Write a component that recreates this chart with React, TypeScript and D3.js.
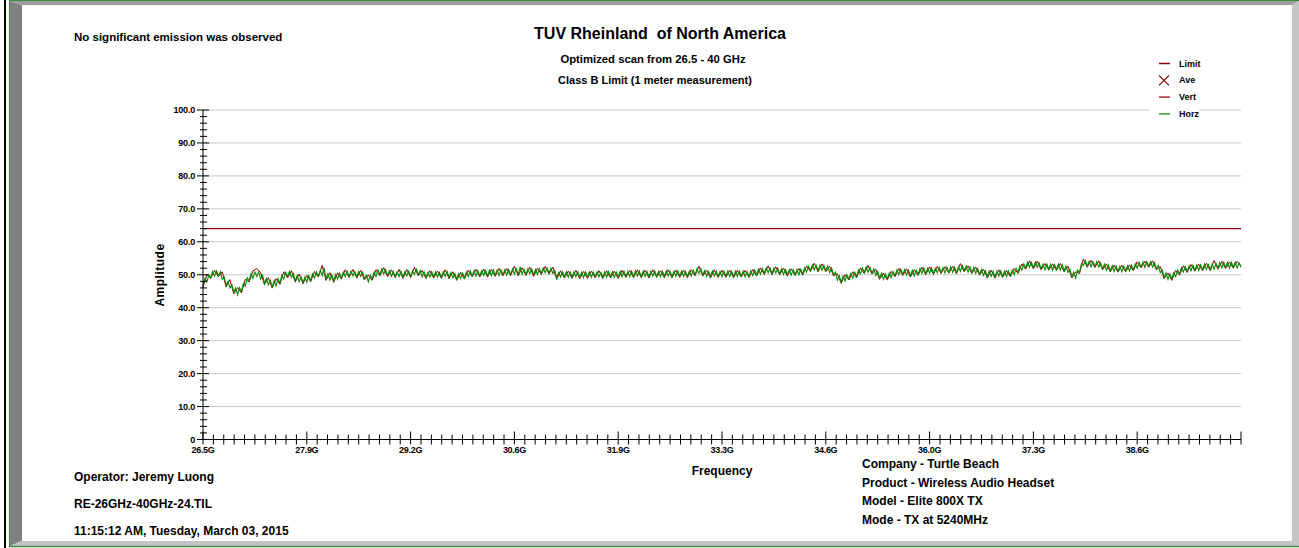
import * as d3 from "d3";

// scan settings (Optimized scan 26.5 - 40 GHz)
const FREQ_START = 26.5;
const FREQ_END = 40;
const HORZ_STEP = 0.025; // horizontal trace, one reading every 25 MHz
const VERT_STEP = 0.05; // vertical trace, one reading every 50 MHz

// Horizontal polarisation peak readings, dBuV/m (20 readings per 0.5 GHz row)
const HORZ = [
  46.7, 48.9, 47.8, 49.9, 49.1, 51.0, 49.6, 51.2, 49.8, 50.9, 48.6, 49.4, 46.8, 48.0, 46.0, 47.0, 44.7, 46.0, 43.9, 46.1,
  44.9, 47.4, 46.5, 49.1, 48.1, 50.3, 48.9, 50.9, 49.5, 50.8, 48.7, 49.8, 47.4, 48.9, 46.9, 48.3, 46.3, 48.2, 46.6, 48.8,
  47.5, 49.8, 48.7, 50.7, 49.4, 51.0, 49.2, 50.4, 48.1, 49.8, 47.9, 49.4, 47.6, 49.3, 47.8, 49.7, 48.2, 50.2, 49.0, 50.9,
  49.5, 51.3, 49.8, 52.2, 48.8, 50.3, 48.4, 50.0, 48.2, 50.1, 48.6, 50.4, 49.0, 50.8, 49.4, 51.1, 49.5, 51.1, 49.6, 51.0,
  49.4, 51.0, 49.5, 50.8, 48.8, 49.9, 47.9, 49.9, 48.8, 50.8, 49.5, 51.4, 50.0, 51.8, 50.2, 51.5, 49.8, 51.2, 49.5, 51.0,
  49.4, 50.9, 49.5, 51.1, 49.3, 50.9, 49.6, 51.1, 49.4, 51.2, 50.1, 51.7, 50.0, 51.3, 49.4, 50.9, 49.2, 50.7, 49.3, 50.9,
  49.4, 50.9, 49.3, 50.7, 49.3, 50.9, 49.5, 51.1, 49.2, 50.7, 49.0, 50.4, 48.7, 50.3, 48.9, 50.5, 49.0, 50.8, 49.5, 51.2,
  49.7, 51.3, 49.6, 51.2, 49.7, 51.3, 49.8, 51.3, 49.6, 51.3, 49.7, 51.5, 49.9, 51.4, 49.8, 51.5, 50.0, 51.5, 49.9, 51.6,
  50.1, 51.7, 50.2, 51.8, 50.0, 52.4, 50.2, 51.7, 50.1, 51.8, 50.3, 51.7, 50.0, 51.6, 50.1, 51.8, 50.4, 52.1, 50.6, 52.1,
  50.5, 52.0, 50.4, 51.3, 49.0, 50.7, 49.3, 50.9, 49.4, 50.9, 49.2, 50.8, 49.3, 50.9, 49.4, 50.9, 49.2, 50.8, 49.1, 50.8,
  49.3, 50.8, 49.2, 50.9, 49.4, 50.9, 49.3, 50.7, 49.2, 50.9, 49.3, 51.0, 49.4, 50.9, 49.2, 50.8, 49.3, 51.0, 49.4, 51.1,
  49.5, 51.0, 49.4, 51.1, 49.5, 51.2, 49.6, 51.1, 49.4, 51.1, 49.5, 51.0, 49.4, 51.1, 49.6, 51.2, 49.5, 51.0, 49.4, 51.1,
  49.5, 51.1, 49.6, 51.1, 49.4, 51.1, 49.5, 51.2, 49.6, 51.1, 49.5, 51.0, 49.4, 51.1, 49.6, 51.4, 50.0, 51.8, 50.4, 51.8,
  49.9, 51.3, 49.5, 51.0, 49.4, 51.1, 49.6, 51.1, 49.5, 51.0, 49.4, 51.1, 49.6, 51.1, 49.5, 51.0, 49.4, 51.1, 49.5, 51.1,
  49.6, 51.1, 49.4, 51.0, 49.5, 51.2, 49.7, 51.4, 50.0, 51.7, 50.2, 51.9, 50.4, 52.1, 50.6, 52.1, 50.4, 52.0, 50.5, 52.0,
  50.3, 51.8, 50.1, 51.6, 50.0, 51.5, 49.9, 51.6, 50.1, 51.6, 50.0, 51.7, 50.2, 52.1, 50.8, 52.6, 51.3, 53.0, 51.5, 52.9,
  51.2, 52.9, 51.4, 52.9, 51.3, 52.6, 50.7, 52.0, 50.0, 50.8, 48.4, 49.7, 47.8, 49.5, 48.1, 50.0, 48.7, 50.4, 49.0, 50.8,
  49.4, 51.4, 50.2, 52.1, 50.7, 52.4, 50.8, 52.3, 50.5, 51.8, 49.8, 51.0, 49.0, 50.4, 48.6, 50.2, 48.7, 50.5, 49.1, 51.0,
  49.7, 51.5, 50.0, 51.7, 50.1, 51.6, 49.9, 51.4, 49.7, 51.3, 49.6, 51.4, 50.1, 51.9, 50.4, 52.0, 50.3, 52.0, 50.5, 52.1,
  50.4, 52.0, 50.6, 52.3, 50.7, 52.2, 50.5, 52.3, 50.8, 52.4, 50.7, 52.3, 50.6, 52.4, 51.0, 52.8, 51.2, 52.6, 50.8, 52.4,
  50.7, 52.2, 50.4, 51.9, 50.2, 51.6, 49.8, 51.2, 49.4, 51.1, 49.5, 51.0, 49.3, 51.1, 49.6, 51.2, 49.5, 51.1, 49.4, 51.2,
  49.7, 51.4, 50.0, 51.9, 50.7, 52.7, 51.4, 53.3, 52.0, 53.8, 52.3, 53.8, 52.1, 53.8, 52.2, 53.6, 51.8, 53.2, 51.5, 53.2,
  51.7, 53.2, 51.4, 53.1, 51.6, 53.2, 51.5, 53.0, 51.2, 52.6, 50.7, 51.7, 49.5, 50.8, 49.0, 51.4, 50.7, 53.4, 52.8, 54.3,
  52.6, 54.1, 52.4, 54.0, 52.5, 54.0, 52.3, 53.6, 51.8, 53.2, 51.4, 52.9, 51.2, 52.7, 51.0, 52.6, 51.1, 52.6, 50.9, 52.6,
  51.2, 52.7, 51.1, 52.9, 51.5, 53.3, 52.0, 53.8, 52.4, 53.9, 52.2, 54.0, 52.6, 54.0, 52.3, 53.7, 51.8, 52.8, 50.6, 51.5,
  49.2, 50.5, 48.6, 50.2, 48.7, 50.6, 49.4, 51.4, 50.2, 52.1, 50.8, 52.5, 51.0, 52.7, 51.2, 52.9, 51.4, 53.0, 51.3, 53.0,
  51.5, 53.2, 51.6, 53.1, 51.5, 53.2, 51.7, 53.4, 52.0, 53.7, 52.1, 53.8, 52.2, 53.7, 52.0, 53.8, 52.3, 53.8, 52.1, 53.6,
  52.3,
];

// Vertical polarisation peak readings, dBuV/m (10 readings per 0.5 GHz row)
const VERT = [
  46.2, 50.1, 48.9, 51.3, 49.4, 50.9, 46.3, 48.5, 44.2, 46.1,
  44.5, 48.6, 47.8, 51.2, 51.9, 50.6, 47.0, 49.1, 46.0, 48.8,
  47.1, 50.9, 49.1, 51.2, 47.8, 50.2, 47.3, 49.8, 47.9, 51.0,
  49.3, 52.8, 48.3, 50.6, 47.7, 50.6, 48.7, 51.5, 49.2, 51.6,
  49.0, 51.4, 48.4, 49.9, 48.3, 51.5, 49.7, 52.2, 49.4, 51.5,
  49.1, 51.6, 48.9, 51.6, 49.2, 52.3, 49.7, 51.3, 48.9, 51.2,
  49.0, 51.1, 48.9, 51.5, 48.8, 50.9, 48.3, 50.7, 48.7, 51.4,
  49.4, 51.6, 49.3, 51.7, 49.3, 51.6, 49.5, 51.9, 49.7, 51.9,
  49.7, 52.6, 49.7, 52.1, 49.8, 52.3, 49.5, 52.0, 50.1, 52.5,
  50.2, 52.3, 48.6, 51.2, 49.0, 51.1, 48.9, 51.3, 48.8, 51.0,
  48.9, 51.1, 49.1, 51.2, 48.9, 51.2, 49.0, 51.1, 48.9, 51.3,
  49.2, 51.3, 49.1, 51.5, 49.1, 51.4, 49.0, 51.5, 49.2, 51.3,
  49.1, 51.5, 49.1, 51.4, 49.2, 51.4, 49.1, 51.5, 49.7, 52.6,
  49.6, 51.4, 49.0, 51.5, 49.2, 51.3, 49.2, 51.4, 49.1, 51.4,
  49.3, 51.3, 49.2, 51.6, 49.6, 52.1, 50.1, 52.7, 50.0, 52.4,
  50.0, 52.0, 49.6, 51.8, 49.8, 51.9, 49.9, 52.7, 51.0, 53.5,
  50.9, 53.3, 50.9, 52.6, 49.7, 50.3, 47.4, 50.0, 48.4, 50.9,
  49.1, 52.1, 50.4, 52.8, 50.2, 51.7, 48.6, 50.5, 48.4, 51.0,
  49.4, 51.9, 49.8, 51.8, 49.3, 51.5, 49.8, 52.3, 50.0, 52.4,
  50.1, 52.5, 50.4, 52.4, 50.5, 52.6, 50.3, 53.4, 50.9, 52.7,
  50.4, 52.3, 49.9, 51.7, 49.0, 51.4, 49.0, 51.5, 49.2, 51.3,
  49.4, 51.9, 50.4, 53.3, 51.7, 54.2, 51.8, 54.1, 51.5, 53.4,
  51.4, 53.3, 51.3, 53.4, 50.9, 52.6, 49.0, 50.9, 50.4, 54.8,
  52.3, 54.3, 52.2, 54.2, 51.5, 53.3, 50.9, 52.9, 50.8, 52.8,
  50.9, 53.0, 51.2, 53.9, 52.1, 54.1, 52.3, 54.2, 51.5, 52.5,
  48.8, 50.5, 48.3, 51.3, 49.9, 52.7, 50.7, 53.1, 51.1, 53.2,
  51.2, 53.5, 51.2, 54.3, 51.7, 54.0, 51.9, 53.9, 52.0, 54.0,
  52.7,
];

const LIMIT_LEVEL = 64; // Class B, 1 m
const AVE: number[] = []; // no average readings on this scan

const Y_TICKS = [0, 10, 20, 30, 40, 50, 60, 70, 80, 90, 100];
const X_TICKS = [26.5, 27.85, 29.2, 30.55, 31.9, 33.25, 34.6, 35.95, 37.3, 38.65, 40];
const X_TICK_LABELS = ["26.5G", "27.9G", "29.2G", "30.6G", "31.9G", "33.3G", "34.6G", "36.0G", "37.3G", "38.6G", ""];

const LEGEND_NAMES = ["Limit", "Ave", "Vert", "Horz"];
const LEGEND_COLORS = ["#8b0000", "#8b0000", "#a03030", "#2e9a2e"];

const LEFT_NOTES = ["Operator: Jeremy Luong", "RE-26GHz-40GHz-24.TIL", "11:15:12 AM, Tuesday, March 03, 2015"];
const RIGHT_NOTES = ["Company - Turtle Beach", "Product - Wireless Audio Headset", "Model - Elite 800X TX", "Mode - TX at 5240MHz"];

const W = 1299;
const H = 548;
const FONT = "'Liberation Sans', Arial, sans-serif";

export default function App() {
  const x = d3.scaleLinear().domain([FREQ_START, FREQ_END]).range([203, 1241]);
  const y = d3.scaleLinear().domain([0, 100]).range([439.5, 110]);

  const traceLine = (step: number) =>
    d3
      .line<number>()
      .x((_, i) => x(FREQ_START + i * step))
      .y((d) => y(d));

  const yMinor = d3.range(0, 100, 2).filter((v) => v % 10 !== 0);
  const xMinor: number[] = [];
  for (let i = 0; i < X_TICKS.length - 1; i++) {
    const a = X_TICKS[i];
    const b = X_TICKS[i + 1];
    for (let k = 1; k < 10; k++) xMinor.push(a + ((b - a) * k) / 10);
  }

  const x0 = x(FREQ_START);
  const y0 = y(0);

  return (
    <div style={{ position: "fixed", left: 0, top: 0 }}>
      <svg width={W} height={H} style={{ display: "block", background: "#fff" }} fontFamily={FONT} fontWeight="bold">
        {/* frame */}
        <rect x={4} y={0} width={2} height={H} fill="#000" />
        <polygon points="10,1 22,5 22,541 10,546" fill="#808080" />
        <polygon points="10,1 1299,1 1292,5 22,5" fill="#9c9c9c" />
        <polygon points="1299,1 1299,546 1292,541 1292,5" fill="#c4c4c4" />
        <polygon points="10,546 1299,546 1292,541 22,541" fill="#c4c4c4" />
        <line x1={9.5} y1={0.5} x2={W} y2={0.5} stroke="#3c8c3c" />
        <line x1={9.5} y1={0} x2={9.5} y2={547} stroke="#3c8c3c" />
        <line x1={9.5} y1={546.5} x2={W} y2={546.5} stroke="#3c8c3c" strokeWidth={1.5} />

        {/* grid */}
        {Y_TICKS.filter((v) => v > 0).map((v) => (
          <line key={v} x1={x0} x2={x(FREQ_END)} y1={y(v)} y2={y(v)} stroke="#c8c8c8" />
        ))}

        {/* traces */}
        <path d={traceLine(VERT_STEP)(VERT) ?? ""} fill="none" stroke="#990000" strokeWidth={1} />
        <path d={traceLine(HORZ_STEP)(HORZ) ?? ""} fill="none" stroke="#008a00" strokeWidth={1.1} />
        <line
          x1={x(FREQ_START)}
          x2={x(FREQ_END)}
          y1={y(LIMIT_LEVEL)}
          y2={y(LIMIT_LEVEL)}
          stroke="#8b0000"
          strokeWidth={1.3}
        />
        {AVE.map((v, i) => (
          <path
            key={i}
            d="M-4,-4L4,4M-4,4L4,-4"
            transform={`translate(${x(FREQ_START + i * VERT_STEP)},${y(v)})`}
            stroke="#8b0000"
          />
        ))}

        {/* y axis */}
        <line x1={x0} x2={x0} y1={y(0)} y2={y(100)} stroke="#000" />
        {Y_TICKS.map((v) => (
          <g key={v}>
            <line x1={x0 - 6} x2={x0 + 6} y1={y(v)} y2={y(v)} stroke="#000" />
            <text x={x0 - 8} y={y(v)} dy="0.35em" textAnchor="end" fontSize={9} letterSpacing={-0.2}>
              {v === 0 ? "0" : v.toFixed(1)}
            </text>
          </g>
        ))}
        {yMinor.map((v) => (
          <line key={v} x1={x0 - 3} x2={x0 + 4} y1={y(v)} y2={y(v)} stroke="#000" />
        ))}

        {/* x axis */}
        <line x1={x0} x2={x(FREQ_END)} y1={y0} y2={y0} stroke="#000" />
        {X_TICKS.map((f, i) => (
          <g key={f}>
            <line x1={x(f)} x2={x(f)} y1={y0 - 8} y2={y0 + 5} stroke="#000" />
            <text x={x(f)} y={y0 + 13} textAnchor="middle" fontSize={9} letterSpacing={-0.3}>
              {X_TICK_LABELS[i]}
            </text>
          </g>
        ))}
        {xMinor.map((f, i) => (
          <line key={i} x1={x(f)} x2={x(f)} y1={y0 - 5} y2={y0 + 5} stroke="#000" />
        ))}

        {/* axis titles */}
        <text transform="translate(164,275) rotate(-90)" textAnchor="middle" fontSize={12} letterSpacing={0.5}>
          Amplitude
        </text>
        <text x={722} y={475} textAnchor="middle" fontSize={12}>
          Frequency
        </text>

        {/* titles */}
        <text x={74} y={41} fontSize={11.5}>
          No significant emission was observed
        </text>
        <text x={660} y={39} textAnchor="middle" fontSize={16} xmlSpace="preserve">
          TUV Rheinland  of North America
        </text>
        <text x={653} y={63} textAnchor="middle" fontSize={11.3}>
          Optimized scan from 26.5 - 40 GHz
        </text>
        <text x={655} y={84} textAnchor="middle" fontSize={11}>
          Class B Limit (1 meter measurement)
        </text>

        {/* legend */}
        <rect x={1149} y={55} width={50} height={66} fill="#fff" />
        {LEGEND_NAMES.map((name, i) => {
          const ly = 63.5 + i * 16.8;
          return (
            <g key={name}>
              {name === "Ave" ? (
                <path
                  d={`M${1159},${ly - 5}L${1169},${ly + 5}M${1159},${ly + 5}L${1169},${ly - 5}`}
                  stroke={LEGEND_COLORS[i]}
                  strokeWidth={1.2}
                />
              ) : (
                <line x1={1159} x2={1170} y1={ly} y2={ly} stroke={LEGEND_COLORS[i]} strokeWidth={1.5} />
              )}
              <text x={1179} y={ly} dy="0.35em" fontSize={9}>
                {name}
              </text>
            </g>
          );
        })}

        {/* notes */}
        {LEFT_NOTES.map((t, i) => (
          <text key={t} x={74} y={481 + i * 27} fontSize={12}>
            {t}
          </text>
        ))}
        {RIGHT_NOTES.map((t, i) => (
          <text key={t} x={862} y={468 + i * 18.7} fontSize={12}>
            {t}
          </text>
        ))}
      </svg>
    </div>
  );
}
